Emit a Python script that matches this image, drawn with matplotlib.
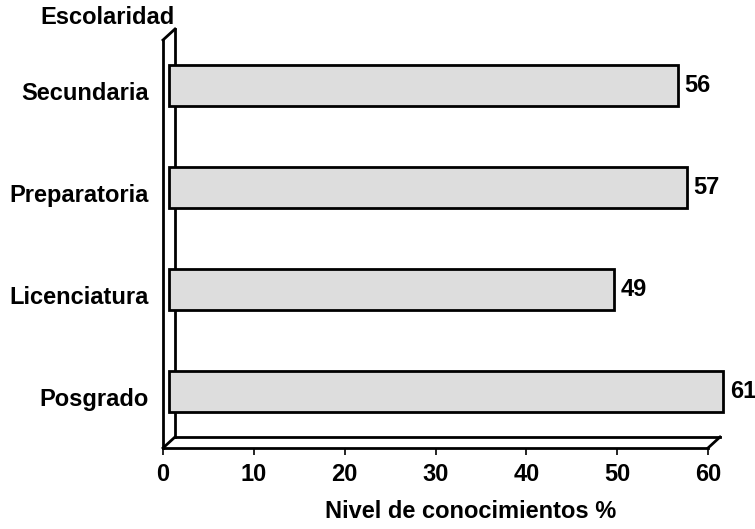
import matplotlib.pyplot as plt
from matplotlib.transforms import ScaledTranslation

plt.rcParams['font.family'] = ['Liberation Sans', 'DejaVu Sans']
plt.rcParams['font.weight'] = 'bold'

# data (bottom to top)
categories = ["Posgrado", "Licenciatura", "Preparatoria", "Secundaria"]
values = [61, 49, 57, 56]
xticks = [0, 10, 20, 30, 40, 50, 60]

FS = 17

fig = plt.figure(figsize=(7.55, 5.29), dpi=100)
ax = fig.add_axes([163 / 755, (529 - 448) / 529, 545 / 755, 408 / 529])
ax.set_xlim(0, 60)
ax.set_ylim(-0.5, 3.5)
for s in ax.spines.values():
    s.set_visible(False)

# offsets for the fake 3D depth
back = ax.transData + ScaledTranslation(12 / 100, 11 / 100, fig.dpi_scale_trans)
mid = ax.transData + ScaledTranslation(6 / 100, 5.5 / 100, fig.dpi_scale_trans)
lab = mid + ScaledTranslation(7 / 100, 0, fig.dpi_scale_trans)

lw = 2
kw = dict(color="black", lw=lw, clip_on=False, solid_joinstyle="miter", zorder=1)
# walls and floor
ax.plot([0, 0], [-0.5, 3.5], **kw)
ax.plot([0, 0], [-0.5, 3.5], transform=back, **kw)
ax.plot([0, 60], [-0.5, -0.5], **kw)
ax.plot([0, 60], [-0.5, -0.5], transform=back, **kw)
# diagonals
inv = ax.transData.inverted()
for x, y in [(0, 3.5), (0, -0.5), (60, -0.5)]:
    a = inv.transform(ax.transData.transform((x, y)))
    b = inv.transform(back.transform((x, y)))
    ax.plot([a[0], b[0]], [a[1], b[1]], **kw)

ypos = list(range(len(categories)))
bars = ax.barh(ypos, values, height=0.41, color="#dddddd",
               edgecolor="black", linewidth=lw, zorder=3)
for p in bars:
    p.set_transform(mid)
    p.set_clip_on(False)

for y, v in zip(ypos, values):
    ax.text(v, y, str(v), transform=lab, ha="left", va="center",
            fontsize=FS, fontweight="bold")

ax.set_xticks(xticks)
ax.set_xticklabels([str(t) for t in xticks], fontsize=FS, fontweight="bold")
ax.tick_params(axis="x", direction="out", length=5, width=1.2, pad=6)
ax.set_yticks(ypos)
ax.set_yticklabels(categories, fontsize=FS, fontweight="bold")
ax.tick_params(axis="y", length=0, pad=10)

fig.text(108 / 755, 1 - 17 / 529, "Escolaridad", ha="center", va="center",
         fontsize=FS, fontweight="bold")
fig.text(471 / 755, 1 - 512 / 529, "Nivel de conocimientos %", ha="center",
         va="center", fontsize=FS, fontweight="bold")

fig.savefig("out.png", dpi=100)
